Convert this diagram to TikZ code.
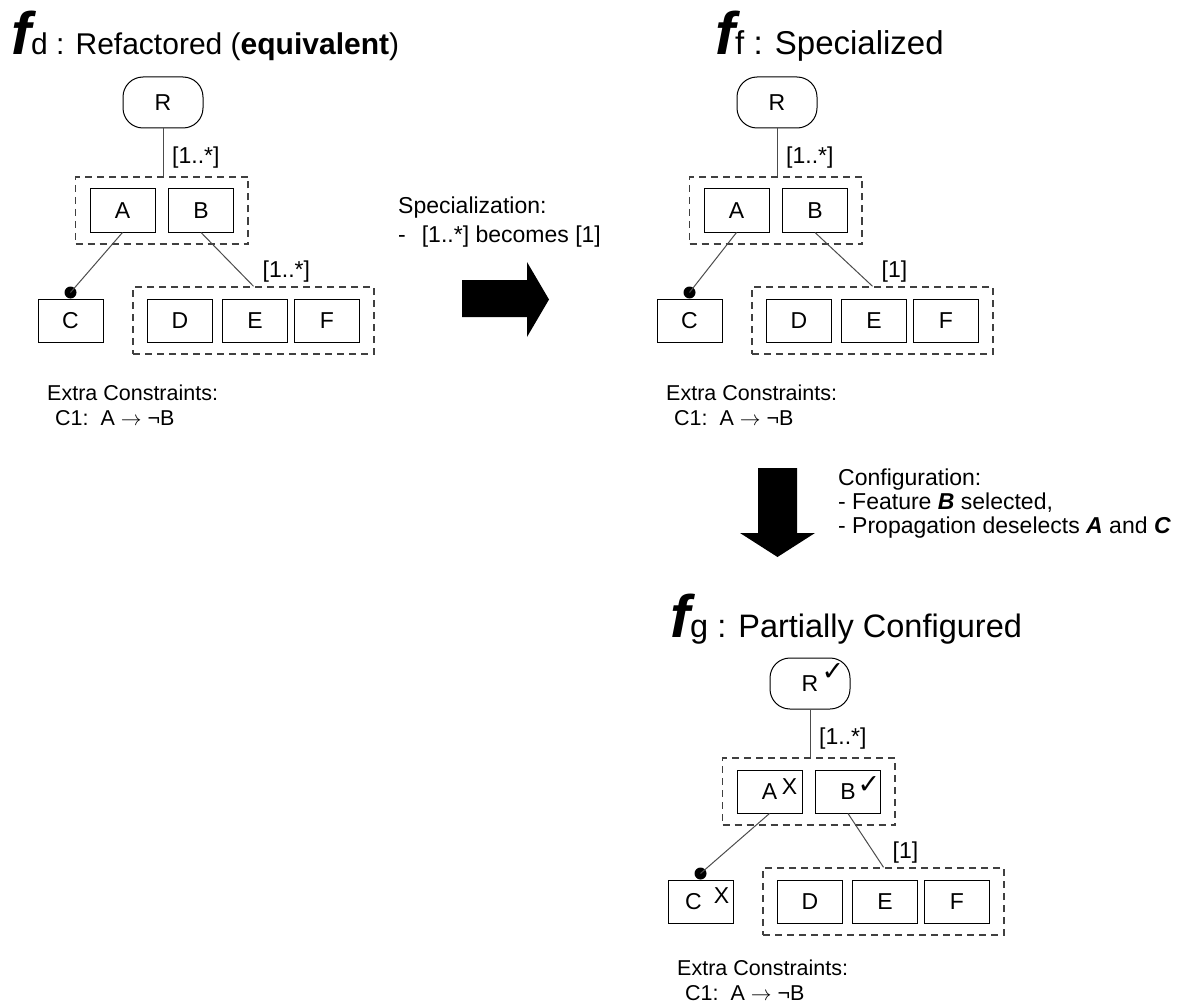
\documentclass[tikz,border=0pt]{standalone}
\usepackage{fontspec}
\setmainfont{Liberation Sans}
\newfontfamily\symfont{DejaVu Sans}
\usetikzlibrary{fit,calc}

\tikzset{
  feat/.style={draw=black, line width=1pt, minimum width=65pt, minimum height=43pt,
    inner sep=0pt, font=\fontsize{23}{23}\selectfont},
  rootfeat/.style={feat, minimum width=80pt, minimum height=51pt, rounded corners=20pt},
  grp/.style={draw=black!75, dash pattern=on 7pt off 5pt, line width=1.5pt,
    inner xsep=14pt, inner ysep=11.5pt},
  link/.style={draw=black!70, line width=1pt},
  cardlbl/.style={font=\fontsize{23}{23}\selectfont, inner sep=0pt, anchor=base west},
  notetext/.style={font=\fontsize{23}{23}\selectfont, inner sep=0pt, anchor=base west},
  constr/.style={font=\fontsize{21.5}{21.5}\selectfont, inner sep=0pt, anchor=base west},
  ttl/.style={inner sep=0pt, anchor=base west},
  mand/.style={circle, fill=black, inner sep=0pt, minimum size=12pt},
  tick/.style={font=\symfont\fontsize{27}{27}\selectfont, inner sep=0pt},
  cross/.style={font=\fontsize{23}{23}\selectfont, inner sep=0pt},
  blockarrow/.style={fill=black, draw=none},
}

% title: big bold italic f with its index, then the caption; #1 caption size
\newcommand\fmtitle[3]{{\fontsize{60}{60}\selectfont\bfseries\itshape f}%
  {\fontsize{#1}{#1}\selectfont #2 : #3}}

% one feature model: #1 name prefix, #2/#3 shift of the upper part,
% #4 extra x shift of the lower row, #5 cardinality of the lower group,
% #6 extra y shift of the constraint notes, #7 text of feature C
\newcommand\fmtree[7]{%
  \begin{scope}[shift={(#2,#3)}]
    \node[rootfeat] (#1R) at (163,102.5) {R};
    \node[feat] (#1A) at (122.5,210.5) {A};
    \node[feat] (#1B) at (201,210.5) {B};
    \node[grp, fit=(#1A)(#1B)] (#1G1) {};
    \begin{scope}[xshift=#4pt]
      \node[feat] (#1C) at (70.5,320.5) {#7};
      \node[feat] (#1D) at (180,320.5) {D};
      \node[feat] (#1E) at (255,320.5) {E};
      \node[feat] (#1F) at (327,320.5) {F};
      \node[constr] (#1x1) at (47,400+#6) {Extra Constraints:};
      \node[constr] (#1x2) at (55,425+#6) {C1:\ \ A $\rightarrow$ ¬B};
    \end{scope}
    \node[grp, fit=(#1D)(#1F)] (#1G2) {};
    \coordinate (#1top) at (#1R.south |- #1G1.north);
    \draw[link] (#1R.south) -- (#1top);
    \node[mand] (#1dot) at ([yshift=6pt]#1C.north) {};
    \draw[link] (#1A.south) -- (#1dot.center);
    \draw[link] (#1B.south) -- (#1G2.north);
    \node[cardlbl] (#1k1) at ($(#1top)+(9,-13)$) {[1..*]};
    \node[cardlbl] (#1k2) at ($(#1G2.north)+(9,-9)$) {#5};
  \end{scope}%
}

\begin{document}
\begin{tikzpicture}[x=1pt,y=-1pt]
  \useasboundingbox[fill=white] (0,0) rectangle (1179,1006);

  % titles
  \node[ttl] (fd-title) at (11,55) {\fmtitle{30}{d}{Refactored (\textbf{equivalent})}};
  \node[ttl] (ff-title) at (715,55) {\fmtitle{33}{f}{Specialized}};
  \node[ttl] (fg-title) at (670,637) {\fmtitle{32.5}{g}{Partially Configured}};

  % the three feature models
  \fmtree{fd-}{0}{0}{0}{[1..*]}{0}{C}
  \fmtree{ff-}{614}{0}{5}{[1]}{0}{C}
  \fmtree{fg-}{647}{581}{-17}{[1]}{-6}{\hspace*{-14pt}C}

  % selection marks of the partial configuration
  \node[tick]  (fg-Rmark) at ($(fg-R.center)+(23,-11.5)$) {✓};
  \node[cross] (fg-Amark) at ($(fg-A.center)+(20,-5)$) {X};
  \node[tick]  (fg-Bmark) at ($(fg-B.center)+(21,-6.5)$) {✓};
  \node[cross] (fg-Cmark) at ($(fg-C.center)+(21,-6)$) {X};

  % specialization step
  \fill[blockarrow] (462,280) -- (527,280) -- (527,262) -- (549,299.5)
    -- (527,337) -- (527,317) -- (462,317) -- cycle;
  \node[notetext] (spec1) at (398,214) {Specialization:};
  \node[notetext] (spec2) at (398,243) {-\hspace{16pt}[1..*] becomes [1]};

  % configuration step
  \fill[blockarrow] (758,468) -- (797,468) -- (797,533) -- (815,533)
    -- (777.5,557) -- (740,533) -- (758,533) -- cycle;
  \node[notetext] (conf1) at (838,485) {Configuration:};
  \node[notetext] (conf2) at (838,509) {- Feature \textbf{\textit{B}} selected,};
  \node[notetext] (conf3) at (838,533) {- Propagation deselects \textbf{\textit{A}} and \textbf{\textit{C}}};
\end{tikzpicture}
\end{document}
